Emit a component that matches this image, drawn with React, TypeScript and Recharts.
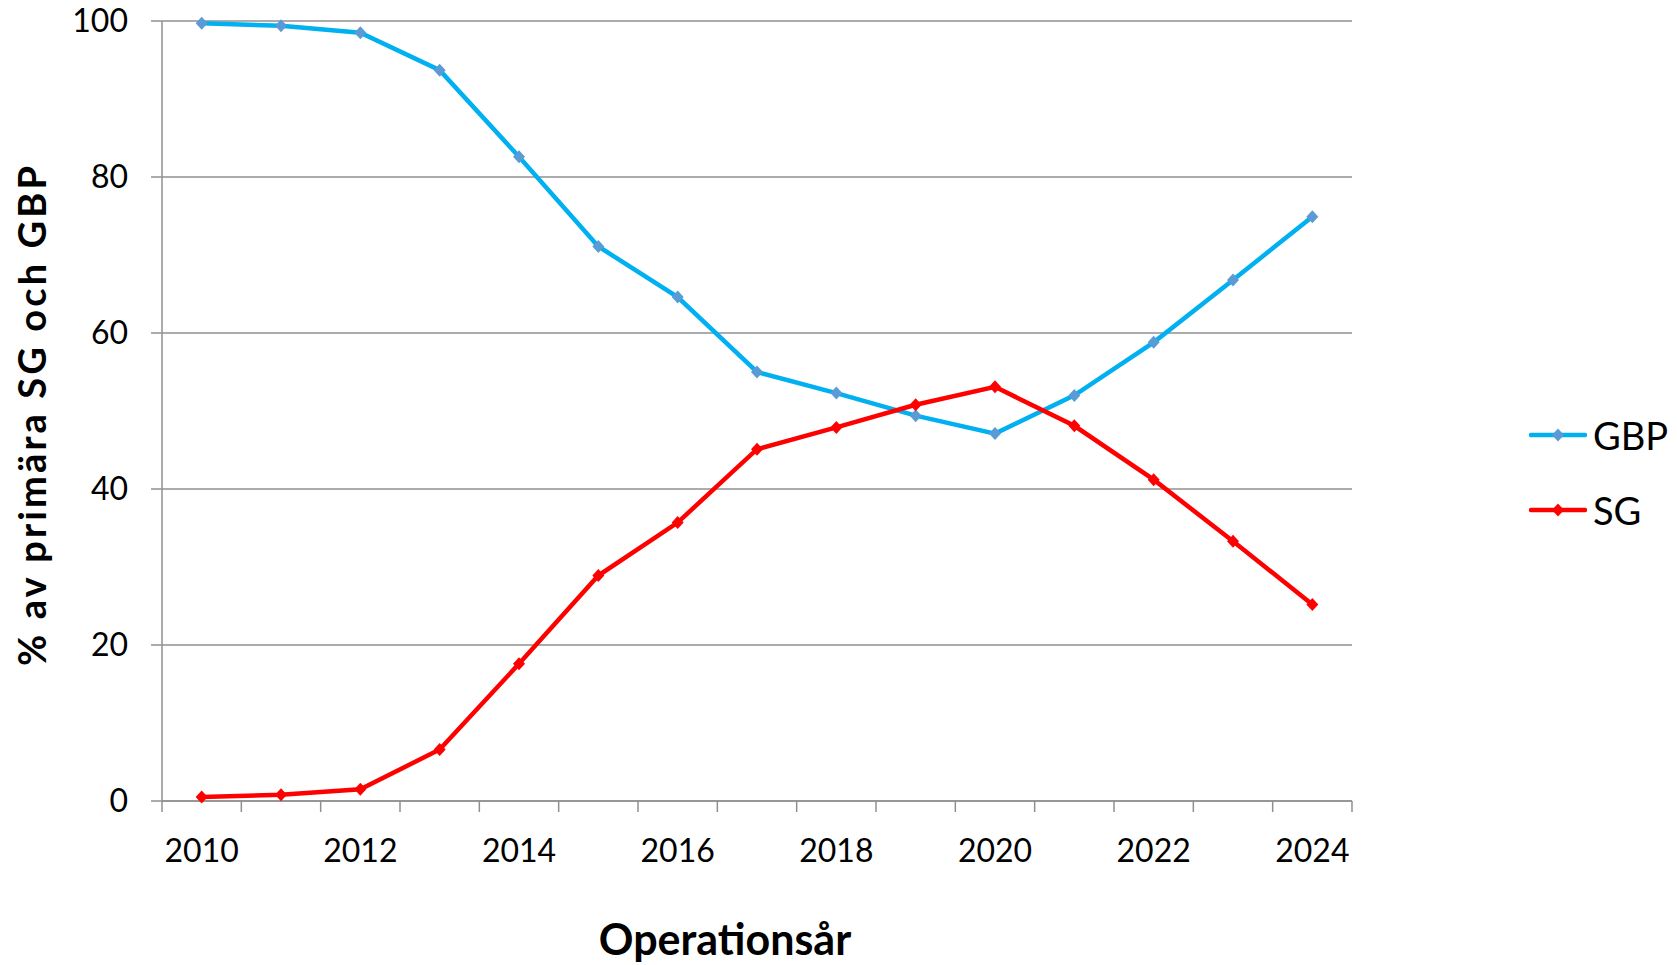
import React from 'react';
import { LineChart, Line, XAxis, YAxis, CartesianGrid, Legend, Label } from 'recharts';

const years = [2010, 2011, 2012, 2013, 2014, 2015, 2016, 2017, 2018, 2019, 2020, 2021, 2022, 2023, 2024];
const gbpValues = [99.7, 99.4, 98.5, 93.7, 82.6, 71.1, 64.6, 55.0, 52.3, 49.4, 47.1, 52.0, 58.8, 66.8, 74.9];
const sgValues = [0.5, 0.8, 1.5, 6.6, 17.6, 28.9, 35.7, 45.1, 47.9, 50.8, 53.1, 48.1, 41.2, 33.3, 25.2];
const yTicks = [0, 20, 40, 60, 80, 100];
const xLabelYears = years.filter((y) => y % 2 === 0);
const yTitle = '% av primära SG och GBP';
const xTitle = 'Operationsår';

const FONT = "Lato, 'Open Sans', sans-serif";
const GRID = '#909090';

const series = [
  { key: 'GBP', values: gbpValues, color: '#00B0F0', marker: '#5B9BD5' },
  { key: 'SG', values: sgValues, color: '#FF0000', marker: '#FF0000' },
];

const data = years.map((year, i) => {
  const row: any = { year };
  series.forEach((s) => {
    row[s.key] = s.values[i];
  });
  return row;
});

const boundaryTicks = [years[0] - 0.5, ...years.map((y) => y + 0.5)];
const xTicks = [...boundaryTicks, ...xLabelYears].sort((a, b) => a - b);

const XTick = (props: any) => {
  const { x, y, payload } = props;
  const v = payload.value;
  if (Number.isInteger(v)) {
    return (
      <text x={x} y={y + 61} textAnchor="middle" fontSize={32} fill="#000" fontFamily={FONT}>
        {v}
      </text>
    );
  }
  return <line x1={x} x2={x} y1={y} y2={y + 11} stroke={GRID} strokeWidth={1.5} />;
};

const diamond = (cx: number, cy: number, fill: string, key?: any) => (
  <polygon
    key={key}
    points={`${cx},${cy - 6.5} ${cx + 6},${cy} ${cx},${cy + 6.5} ${cx - 6},${cy}`}
    fill={fill}
  />
);

const renderLegend = () => (
  <div style={{ display: 'flex', flexDirection: 'column' }}>
    {series.map((s) => (
      <div key={s.key} style={{ display: 'flex', alignItems: 'center', height: 75 }}>
        <svg width={58} height={20} style={{ display: 'block' }}>
          <line x1={2} x2={56} y1={10} y2={10} stroke={s.color} strokeWidth={4.5} strokeLinecap="round" />
          {diamond(29, 10, s.marker)}
        </svg>
        <span style={{ marginLeft: 6, fontSize: 38, fontFamily: FONT, color: '#000', lineHeight: 1 }}>{s.key}</span>
      </div>
    ))}
  </div>
);

export default function App() {
  return (
    <div style={{ position: 'absolute', left: 0, top: 0, width: 1677, height: 965, background: '#fff' }}>
      <LineChart width={1677} height={965} data={data} margin={{ top: 21, right: 175, bottom: 0, left: 0 }}>
        <CartesianGrid vertical={false} stroke={GRID} strokeWidth={1.5} />
        <XAxis
          dataKey="year"
          type="number"
          domain={[years[0] - 0.5, years[years.length - 1] + 0.5]}
          ticks={xTicks}
          interval={0}
          tick={<XTick />}
          tickLine={false}
          tickSize={0}
          tickMargin={0}
          height={164}
          axisLine={{ stroke: GRID, strokeWidth: 1.5 }}
        >
          <Label
            content={() => (
              <text x={725} y={955} textAnchor="middle" fontSize={43} fontWeight="bold" fill="#000" fontFamily={FONT}>
                {xTitle}
              </text>
            )}
          />
        </XAxis>
        <YAxis
          type="number"
          domain={[0, 100]}
          ticks={yTicks}
          interval={0}
          width={162}
          tickSize={11}
          tickMargin={23}
          tickLine={{ stroke: GRID, strokeWidth: 1.5 }}
          axisLine={{ stroke: GRID, strokeWidth: 1.5 }}
          tick={{ fontSize: 32, fill: '#000', fontFamily: FONT }}
        >
          <Label
            content={() => (
              <text
                x={46}
                y={416}
                transform="rotate(-90, 46, 416)"
                textAnchor="middle"
                fontSize={38}
                fontWeight="bold"
                fill="#000"
                fontFamily={FONT}
                textLength={500}
                lengthAdjust="spacing"
              >
                {yTitle}
              </text>
            )}
          />
        </YAxis>
        <Legend
          layout="vertical"
          align="right"
          verticalAlign="top"
          content={renderLegend}
          wrapperStyle={{ width: 150, left: 1529, top: 397 }}
        />
        {series.map((s) => (
          <Line
            key={s.key}
            type="linear"
            dataKey={s.key}
            stroke={s.color}
            strokeWidth={4.5}
            isAnimationActive={false}
            activeDot={false}
            dot={(p: any) => diamond(p.cx, p.cy, s.marker, `${s.key}-${p.index}`)}
          />
        ))}
      </LineChart>
    </div>
  );
}
